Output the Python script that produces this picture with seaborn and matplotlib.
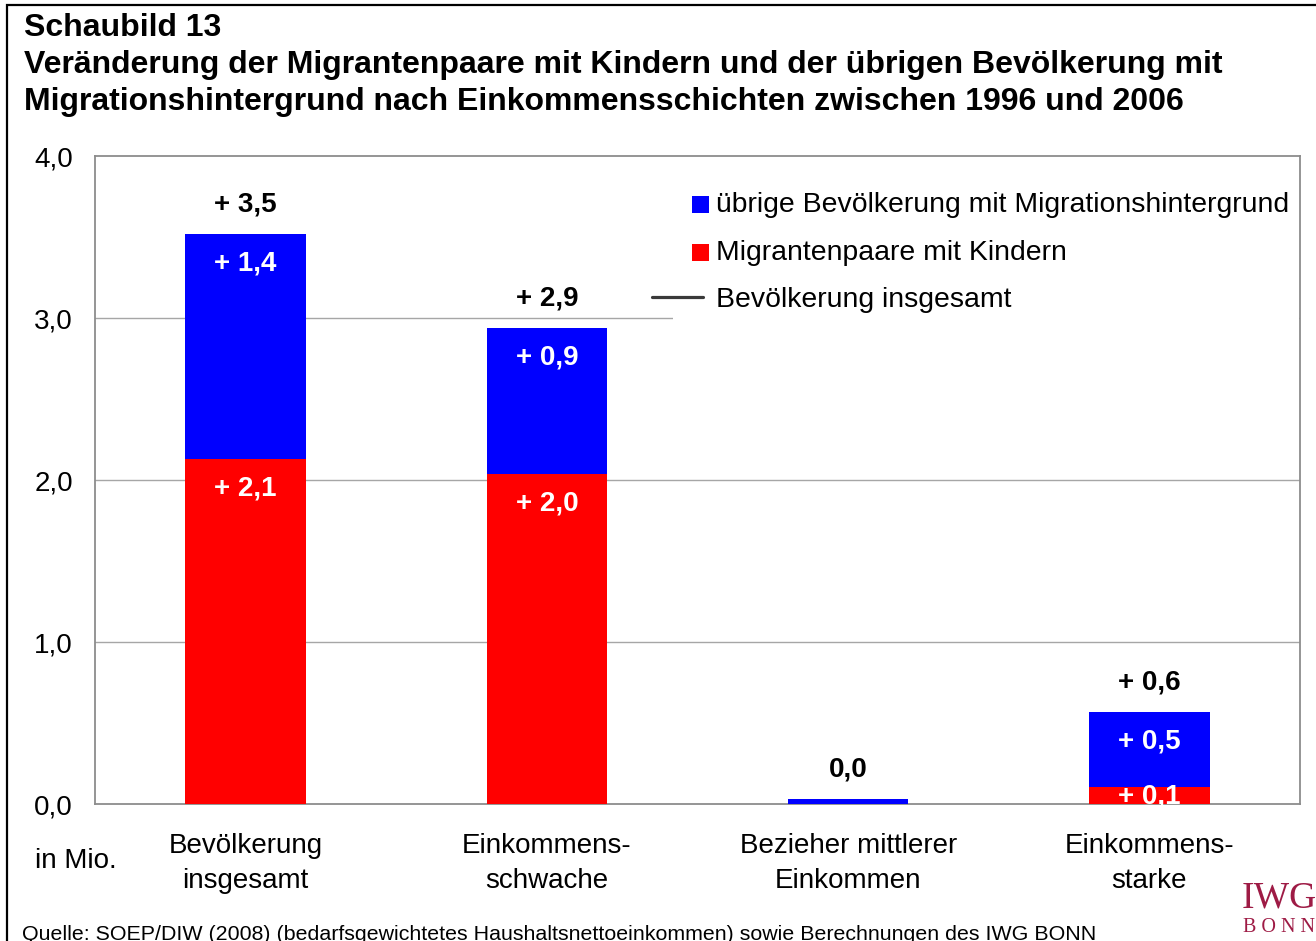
import matplotlib
matplotlib.use("Agg")
import matplotlib.pyplot as plt
import seaborn as sns
import pandas as pd
from matplotlib.patches import Rectangle
from matplotlib.lines import Line2D

# ---------------- data ----------------
categories = ["Bevölkerung\ninsgesamt", "Einkommens-\nschwache",
              "Bezieher mittlerer\nEinkommen", "Einkommens-\nstarke"]
migrantenpaare = [2.13, 2.04, 0.0, 0.105]
uebrige = [1.39, 0.90, 0.03, 0.465]
total_labels = ["+ 3,5", "+ 2,9", "0,0", "+ 0,6"]
red_labels = ["+ 2,1", "+ 2,0", "", "+ 0,1"]
blue_labels = ["+ 1,4", "+ 0,9", "", "+ 0,5"]
yticks = [0, 1, 2, 3, 4]
ytick_labels = ["0,0", "1,0", "2,0", "3,0", "4,0"]
legend_labels = ["übrige Bevölkerung mit Migrationshintergrund",
                 "Migrantenpaare mit Kindern", "Bevölkerung insgesamt"]

df = pd.DataFrame({"cat": categories, "red": migrantenpaare, "blue": uebrige})
df["total"] = df["red"] + df["blue"]

sns.set_theme(style="white")
plt.rcParams["font.family"] = ["Liberation Sans", "DejaVu Sans"]
plt.rcParams["text.color"] = "black"
plt.rcParams["xtick.color"] = "black"
plt.rcParams["ytick.color"] = "black"

W, H = 1316, 941
fig = plt.figure(figsize=(W / 100, H / 100), dpi=100)
ax = fig.add_axes([95 / W, 1 - 804 / H, (1300 - 95) / W, (804 - 156) / H])

BLUE = "#0000FF"
RED = "#FF0000"
FS = 20

sns.barplot(data=df, x="cat", y="total", color=BLUE, width=0.4,
            saturation=1, ax=ax, zorder=3, linewidth=0)
sns.barplot(data=df, x="cat", y="red", color=RED, width=0.4,
            saturation=1, ax=ax, zorder=4, linewidth=0)

ax.set_ylim(0, 4)
ax.set_xlim(-0.5, len(categories) - 0.5)
ax.set_yticks(yticks)
ax.set_yticklabels(ytick_labels)
ax.set_xlabel("")
ax.set_ylabel("")
ax.tick_params(axis="y", length=0, pad=16, labelsize=FS, labelcolor="black")
ax.tick_params(axis="x", length=0, pad=21, labelsize=FS, labelcolor="black")
for lab in ax.get_xticklabels():
    lab.set_linespacing(1.42)

for s in ax.spines.values():
    s.set_color("#8c8c8c")
    s.set_linewidth(1.3)
for y in [1, 2, 3]:
    ax.axhline(y, color="#a6a6a6", lw=1.0, zorder=1)

px = 4 / 648  # data units per pixel
for i, row in df.iterrows():
    ax.annotate(total_labels[i], (i, row["total"]), xytext=(0, 21),
                textcoords="offset points", ha="center", va="center",
                fontsize=FS, fontweight="bold", color="black", zorder=6)
    if blue_labels[i]:
        yb = row["total"] - 30 * px
        ax.text(i, yb, blue_labels[i], ha="center", va="center", fontsize=FS,
                fontweight="bold", color="white", zorder=6)
    if red_labels[i]:
        yr = row["red"] - 30 * px
        if yr < row["red"] / 2:
            yr = row["red"] / 2 - 1 * px
        ax.text(i, yr, red_labels[i], ha="center", va="center", fontsize=FS,
                fontweight="bold", color="white", zorder=6)

# legend (white box covering gridline)
def ax_xy(x, y):
    return ((x - 95) / 1205, (804 - y) / 648)

x0, y0 = ax_xy(673, 326)
x1, y1 = ax_xy(1299, 178)
ax.add_patch(Rectangle((x0, y0), x1 - x0, y1 - y0, transform=ax.transAxes,
                       facecolor="white", edgecolor="none", zorder=5))
sq = 17
for (yc, col) in [(204.5, BLUE), (252.5, RED)]:
    bx, by = ax_xy(692, yc + sq / 2)
    ax.add_patch(Rectangle((bx, by), sq / 1205, sq / 648, transform=ax.transAxes,
                           facecolor=col, edgecolor="none", zorder=6))
lx0, ly = ax_xy(652, 296.5)
lx1, _ = ax_xy(703, 296.5)
ax.add_line(Line2D([lx0, lx1], [ly, ly], transform=ax.transAxes,
                   color="#3a3a3a", lw=2.3, zorder=6))
for yc, lab in zip([205, 253, 300], legend_labels):
    tx, ty = ax_xy(716, yc)
    ax.text(tx, ty, lab, transform=ax.transAxes, ha="left", va="center",
            fontsize=20.4, color="black", zorder=7)

# titles
TFS = 23
fig.text(24 / W, 1 - 28 / H, "Schaubild 13", ha="left", va="center",
         fontsize=TFS, fontweight="bold")
fig.text(24 / W, 1 - 65 / H,
         "Veränderung der Migrantenpaare mit Kindern und der übrigen Bevölkerung mit",
         ha="left", va="center", fontsize=TFS, fontweight="bold")
fig.text(24 / W, 1 - 102 / H,
         "Migrationshintergrund nach Einkommensschichten zwischen 1996 und 2006",
         ha="left", va="center", fontsize=TFS, fontweight="bold")

fig.text(35 / W, 1 - 861 / H, "in Mio.", ha="left", va="center", fontsize=FS)
fig.text(22 / W, 1 - 934 / H,
         "Quelle: SOEP/DIW (2008) (bedarfsgewichtetes Haushaltsnettoeinkommen) sowie Berechnungen des IWG BONN",
         ha="left", va="center", fontsize=15.4)

# logo
fig.text(1242 / W, 1 - 898 / H, "IWG", ha="left", va="center", fontsize=27,
         family="Liberation Serif", color="#9e1b45")
fig.text(1243 / W, 1 - 928 / H, "B O N N", ha="left", va="center", fontsize=14.5,
         family="Liberation Serif", color="#9e1b45")

# outer frame
fig.patches.append(Rectangle((7 / W, -0.1), 1.2, 1.1 - 5 / H, transform=fig.transFigure,
                             facecolor="none", edgecolor="black", lw=1.6, zorder=10))

fig.savefig("out.png", dpi=100)
